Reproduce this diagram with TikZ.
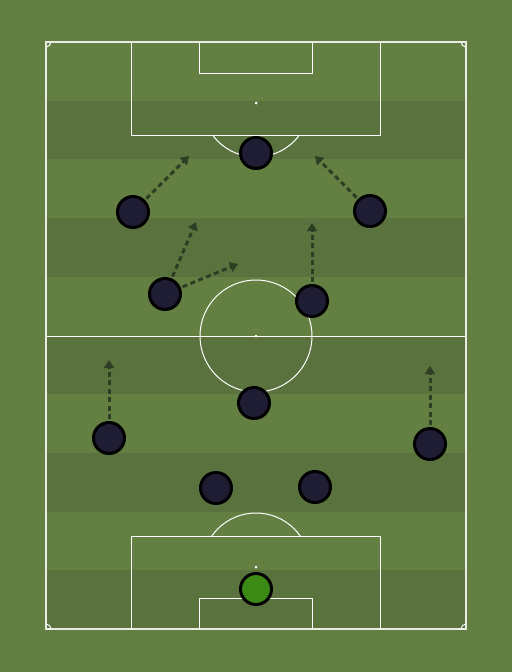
\documentclass[tikz,border=0pt]{standalone}
\usetikzlibrary{arrows.meta}
\definecolor{grasslight}{RGB}{99,128,66}
\definecolor{grassdark}{RGB}{90,115,62}
\definecolor{playerfill}{RGB}{31,29,51}
\definecolor{gkfill}{RGB}{60,138,22}
\definecolor{runcol}{RGB}{45,62,36}
\tikzset{
  pitchline/.style={draw=white, line width=1pt},
  outerline/.style={draw=white!85!grasslight, line width=1.3pt},
  player/.style={circle, draw=black, line width=3pt, fill=playerfill, minimum size=31pt, inner sep=0pt},
  keeper/.style={player, fill=gkfill},
  run/.style={draw=runcol, line width=3pt, dash pattern=on 5pt off 3.5pt, shorten <=2pt,
    -{Triangle[length=8pt,width=10pt]}},
}
\begin{document}
\begin{tikzpicture}[x=1pt,y=-1pt]
\useasboundingbox (0,0) rectangle (512,672);
\fill[grasslight] (0,0) rectangle (512,672);
% stripes
\foreach \i in {1,3,5,7,9} {
  \fill[grassdark] (46,{42+\i*58.7}) rectangle (466,{42+(\i+1)*58.7});
}
% outline
\draw[outerline] (46,42) rectangle (466,629);
\draw[pitchline] (46,336) -- (466,336);
% centre circle and spot
\draw[pitchline] (256,336) circle[radius=56];
\fill[white] (256,336) circle[radius=1.5];
% top penalty area
\draw[pitchline] (131,42) -- (131,135) -- (380,135) -- (380,42);
\draw[pitchline] (199,42) -- (199,73) -- (312,73) -- (312,42);
\fill[white] (256,103) circle[radius=1.5];
\begin{scope}
  \clip (46,135) rectangle (466,200);
  \draw[pitchline] (256,103) circle[radius=54];
\end{scope}
% bottom penalty area
\draw[pitchline] (131,629) -- (131,536) -- (380,536) -- (380,629);
\draw[pitchline] (199,629) -- (199,598) -- (312,598) -- (312,629);
\fill[white] (256,567) circle[radius=1.5];
\begin{scope}
  \clip (46,470) rectangle (466,536);
  \draw[pitchline] (256,567) circle[radius=54];
\end{scope}
% corner arcs
\begin{scope}
  \clip (46,42) rectangle (466,629);
  \draw[pitchline] (46,42) circle[radius=5];
  \draw[pitchline] (466,42) circle[radius=5];
  \draw[pitchline] (46,629) circle[radius=5];
  \draw[pitchline] (466,629) circle[radius=5];
\end{scope}
% run targets
\coordinate (t2) at (189,156);
\coordinate (t3) at (315,156);
\coordinate (t4a) at (196,222);
\coordinate (t4b) at (238,264);
\coordinate (t5) at (312,223);
\coordinate (t7) at (109,360);
\coordinate (t8) at (430,366);
% players
\node[player] (p1) at (256,153) {};
\node[player] (p2) at (133,212) {};
\node[player] (p3) at (370,211) {};
\node[player] (p4) at (165,294) {};
\node[player] (p5) at (312,301) {};
\node[player] (p6) at (254,403) {};
\node[player] (p7) at (109,438) {};
\node[player] (p8) at (430,444) {};
\node[player] (p9) at (216,488) {};
\node[player] (p10) at (315,487) {};
\node[keeper] (gk) at (256,589) {};
% runs
\draw[run] (p2) -- (t2);
\draw[run] (p3) -- (t3);
\draw[run] (p4) -- (t4a);
\draw[run] (p4) -- (t4b);
\draw[run] (p5) -- (t5);
\draw[run] (p7) -- (t7);
\draw[run] (p8) -- (t8);
\end{tikzpicture}
\end{document}
